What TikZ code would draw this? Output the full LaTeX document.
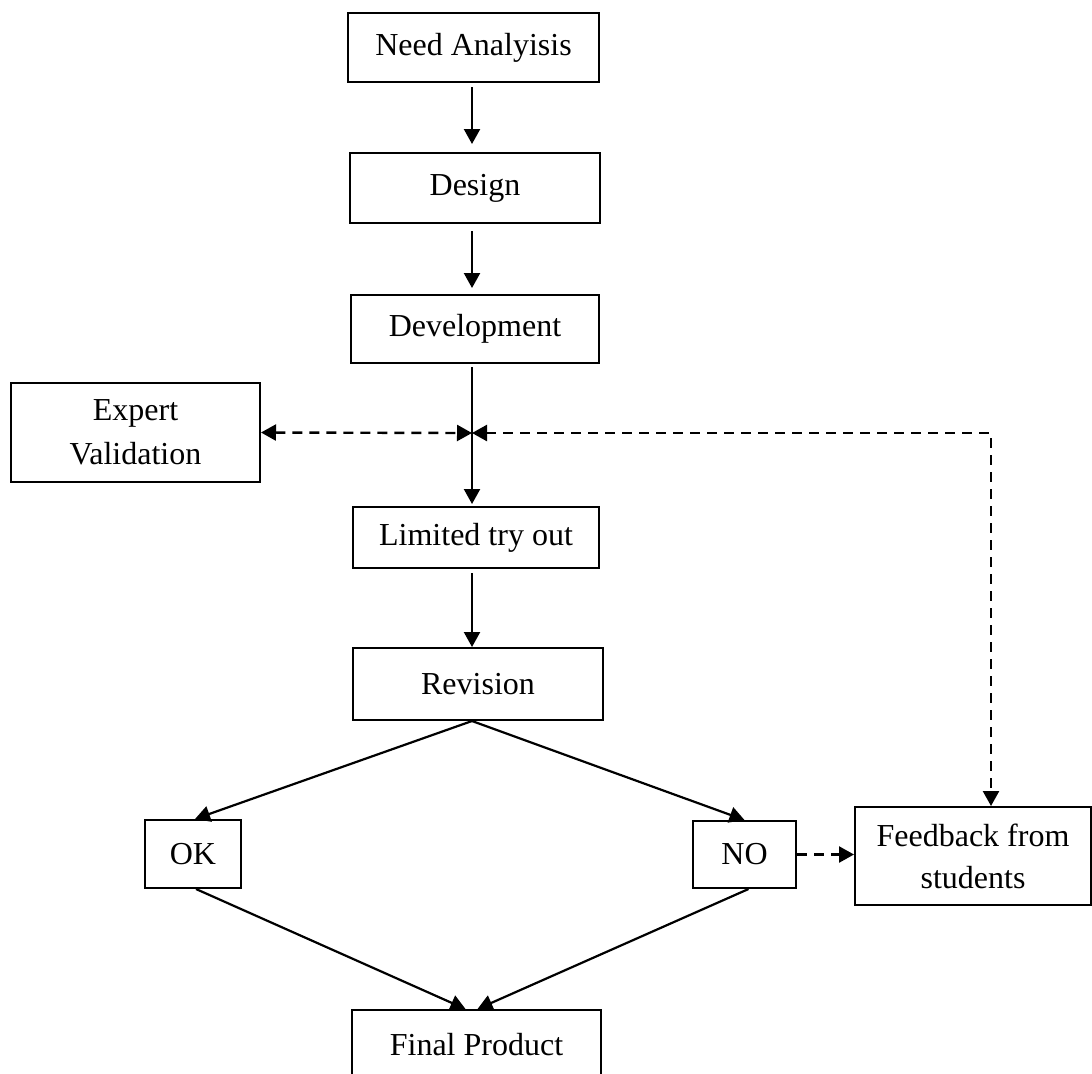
\documentclass[tikz,border=0pt]{standalone}
\usepackage{fontspec}
\setmainfont{Liberation Serif}
\usetikzlibrary{arrows.meta}
\begin{document}
\begin{tikzpicture}[x=0.5pt,y=-0.5pt,
  box/.style={draw,line width=1pt,inner sep=0pt,align=center,font=\fontsize{16}{21}\selectfont},
  arr/.style={line width=1.1pt,-{Triangle[length=7.5pt,width=8pt]}},
  darr/.style={line width=1.2pt,dash pattern=on 5pt off 3.5pt,{Triangle[length=7.5pt,width=8pt]}-{Triangle[length=7.5pt,width=8pt]}},
  sarr/.style={line width=1.2pt,dash pattern=on 5pt off 3.5pt,-{Triangle[length=7.5pt,width=8pt]}}]
\useasboundingbox (0,0) rectangle (1092,1073);
\clip (0,0) rectangle (1092,1073);
\node[box,minimum width=125.5pt,minimum height=34.5pt] (need) at (473.5,47.5) {Need Analyisis};
\node[box,minimum width=125pt,minimum height=35pt] (des) at (475,188) {Design};
\node[box,minimum width=124pt,minimum height=34pt] (dev) at (475,329) {Development};
\node[box,minimum width=124.5pt,minimum height=49.5pt] (exp) at (135.5,432.5) {Expert\\[1pt]Validation};
\node[box,minimum width=123pt,minimum height=30.5pt] (lim) at (476,537.5) {Limited try out};
\node[box,minimum width=125pt,minimum height=36pt] (rev) at (478,684) {Revision};
\node[box,minimum width=48pt,minimum height=34pt] (ok) at (193,854) {OK};
\node[box,minimum width=51.5pt,minimum height=33.5pt] (no) at (744.5,854.5) {NO};
\node[box,minimum width=118pt,minimum height=49pt] (fb) at (973,856) {Feedback from\\students};
\node[box,minimum width=124.5pt,minimum height=35pt] (fin) at (476.5,1045) {Final Product};
\coordinate (c) at (472,433);
\coordinate (k) at (991,433);
\draw[arr,shorten >=4pt] (472,87) -- (des.north -| 472,0);
\draw[arr,shorten >=3pt] (472,231) -- (dev.north -| 472,0);
\draw[arr,shorten >=1pt] (472,367) -- (lim.north -| 472,0);
\draw[arr] (472,573) -- (rev.north -| 472,0);
\draw[arr] (rev.south -| 472,0) -- ([xshift=1pt]ok.north);
\draw[arr] (rev.south -| 472,0) -- (no.north);
\draw[arr] ([xshift=1.5pt]ok.south) -- ([xshift=-5.5pt]fin.north);
\draw[arr] ([xshift=2pt]no.south) -- ([xshift=0.5pt]fin.north);
\draw[darr] (exp.east) -- (c);
\draw[darr] (c) -- (k) -- (fb.north -| k);
\draw[sarr] (no.east) -- (fb.west |- no.east);
\end{tikzpicture}
\end{document}
